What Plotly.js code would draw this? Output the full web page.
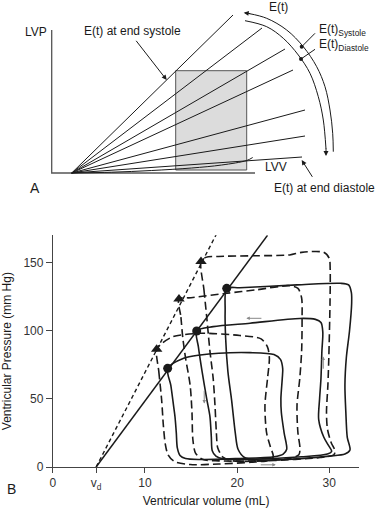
<!DOCTYPE html>
<html>
<head>
<meta charset="utf-8">
<script src="https://cdn.plot.ly/plotly-3.0.1.min.js"></script>
<style>html,body{margin:0;padding:0;background:#fff;}#chart{width:376px;height:508px;}</style>
</head>
<body>
<div id="chart"></div>
<script>
// ---------- Panel A (schematic, arbitrary units: LVV right, LVP up) ----------
const etEndV = [161.3, 190.3, 213.3, 221.3, 233.3, 233.3, 230.3];
const etEndP = [158, 145, 124, 103, 63, 37, 16];
const edCurveV = [0, 40, 80, 120, 150, 175, 181];
const edCurveP = [0, 0.8, 2.5, 5, 8, 12.5, 15.5];
const rectV = [104, 175];
const rectP = [3, 102.3];
const axisAV = [-20, -20, 183.3];
const axisAP = [143, 0, 0];
const arcOuterV = [177, 195, 215, 231.6, 245, 253.3, 258.3, 261, 261.6];
const arcOuterP = [159.5, 154.7, 143, 126.3, 106.3, 86.3, 63, 39.7, 21.3];
const arcInnerV = [173.3, 195, 211.6, 226.6, 238.3, 246.6, 251.6, 254.3];
const arcInnerP = [152.3, 146.3, 134.7, 118, 99.7, 76.3, 53, 24];

// ---------- Panel B ----------
const vd = 4.7;
const xTickVals = [0, vd, 10, 20, 30];
const xTickText = ['0', 'v<sub>d</sub>', '10', '20', '30'];
const yTickVals = [0, 50, 100, 150];
const controlLineV = [vd, 23.3];
const controlLineP = [0, 170];
const epiLineV = [vd, 17.8];
const epiLineP = [0, 171.5];
const controlEsV = [12.46, 15.61, 18.87];
const controlEsP = [72.4, 99.8, 131.1];
const epiEsV = [11.27, 13.69, 16.08];
const epiEsP = [86.4, 123.3, 150.7];

const c1V = [12.46, 12.8, 13.1, 13.26, 13.4, 13.51, 13.8, 14.4, 16, 20, 24, 25, 25.38, 25.1, 24.8, 24.75, 24.9, 24.95, 24.7, 24.0, 21.4, 18, 16, 14.2, 12.46];
const c1P = [72.4, 60, 45, 36.7, 25, 14, 8.5, 6.2, 5.5, 6.2, 7.5, 9.5, 13, 25, 40, 50, 65, 72, 79, 82.5, 83.9, 83.5, 82.2, 79.8, 72.4];
const c2V = [15.61, 15.8, 16.2, 16.7, 17.05, 17.2, 17.3, 17.7, 18.5, 22, 27, 29.8, 30.26, 29.9, 29.4, 28.85, 28.95, 29.1, 29.2, 29.3, 29.1, 28.5, 26.8, 21.4, 17.4, 15.61];
const c2P = [99.8, 88, 70, 50, 37, 22, 12, 8, 6, 5.8, 7.5, 9.5, 11.5, 16, 22, 35, 50, 65, 85, 99, 106, 108.3, 109, 105.5, 103, 99.8];
const c3V = [18.87, 18.7, 18.75, 19.0, 19.4, 19.8, 20.1, 20.8, 22, 26, 30, 31.7, 32.25, 31.95, 31.8, 31.7, 31.85, 32.2, 32.43, 32.4, 32.1, 31.2, 26.5, 20.3, 18.87];
const c3P = [131.1, 115, 95, 70, 49, 25, 13, 7, 5.2, 5.8, 8, 9.5, 12.5, 22, 40, 60, 80, 100, 120, 128, 133.6, 134.8, 133.6, 131.5, 131.1];
const e1V = [11.27, 11.5, 11.81, 12.0, 12.2, 12.5, 13.2, 14.9, 18, 21.5, 23.5, 23.92, 23.6, 23.2, 23.02, 23.3, 23.5, 23.3, 22.6, 20.3, 16, 13.04, 11.9, 11.27];
const e1P = [86.4, 70, 49, 30, 17, 9, 4, 1.8, 2.2, 3.5, 5, 7.5, 15, 25, 45, 65, 80, 88, 94, 96.5, 98.1, 95.6, 91, 86.4];
const e2V = [13.69, 13.9, 14.1, 14.4, 14.9, 15.1, 15.2, 15.5, 16.3, 18, 22, 25.5, 26.7, 26.82, 26.6, 26.5, 26.8, 27.0, 27.05, 27.0, 26.6, 25.7, 22.1, 18.9, 15, 13.69];
const e2P = [123.3, 110, 95, 80, 60, 40, 20, 10, 5.5, 4.5, 4.5, 6, 9, 14, 25, 45, 65, 85, 110, 124, 131, 133, 130, 127.5, 124.2, 123.3];
const e3V = [16.08, 16.4, 16.7, 17.05, 17.4, 17.6, 17.75, 17.9, 18.5, 19.5, 24, 29, 30.5, 30.62, 30.2, 29.8, 29.7, 29.85, 29.95, 30.08, 30.1, 30.0, 29.4, 27, 25.7, 22, 18, 16.6, 16.08];
const e3P = [150.7, 130, 110, 85, 65, 45, 25, 14, 7, 4.5, 4.8, 7, 9, 12, 18, 28, 40, 60, 80, 120, 145, 153, 157.5, 157.5, 155.6, 155, 154.5, 153.8, 150.7];

// small direction arrows: [headV, headP, tailV, tailP]
const dirArrows = [
  [21.0, 109.1, 22.8, 109.1],
  [16.43, 46.5, 16.43, 57],
  [29.35, 81, 29.35, 71],
  [24.2, 1.6, 22.4, 1.6]
];

const FONT = 'Liberation Sans, Arial, sans-serif';
const INK = '#1a1a1a';

const traces = [];
// Panel A
traces.push({x:[rectV[0], rectV[1], rectV[1], rectV[0], rectV[0]], y:[rectP[0], rectP[0], rectP[1], rectP[1], rectP[0]],
  xaxis:'x2', yaxis:'y2', mode:'lines', fill:'toself', fillcolor:'#dcdcdc', line:{color:'#555', width:1}, hoverinfo:'skip'});
traces.push({x:axisAV, y:axisAP, xaxis:'x2', yaxis:'y2', mode:'lines', line:{color:'#555', width:1.3}, hoverinfo:'skip'});
const fanX = [], fanY = [];
etEndV.forEach((v, i) => { fanX.push(0, v, null); fanY.push(0, etEndP[i], null); });
traces.push({x:fanX, y:fanY, xaxis:'x2', yaxis:'y2', mode:'lines', line:{color:INK, width:1}, hoverinfo:'skip'});
traces.push({x:edCurveV, y:edCurveP, xaxis:'x2', yaxis:'y2', mode:'lines', line:{color:INK, width:1, shape:'spline'}, hoverinfo:'skip'});
traces.push({x:arcOuterV, y:arcOuterP, xaxis:'x2', yaxis:'y2', mode:'lines', line:{color:INK, width:1, shape:'spline'}, hoverinfo:'skip'});
traces.push({x:arcInnerV, y:arcInnerP, xaxis:'x2', yaxis:'y2', mode:'lines', line:{color:INK, width:1, shape:'spline'}, hoverinfo:'skip'});
traces.push({x:[230, 243.3, null, 229.3, 243.3], y:[126.3, 139.7, null, 114, 123.7], xaxis:'x2', yaxis:'y2', mode:'lines', line:{color:INK, width:1}, hoverinfo:'skip'});
traces.push({x:[230, 229.3], y:[126.3, 114], xaxis:'x2', yaxis:'y2', mode:'markers', marker:{color:INK, size:4}, hoverinfo:'skip'});

// Panel B
const loopStyle = (dash) => ({color:INK, width:1.6, shape:'spline', smoothing:0.8, dash:dash});
[[c1V,c1P],[c2V,c2P],[c3V,c3P]].forEach(([v,p]) => traces.push({x:v, y:p, mode:'lines', line:loopStyle('solid'), hoverinfo:'skip'}));
[[e1V,e1P],[e2V,e2P],[e3V,e3P]].forEach(([v,p]) => traces.push({x:v, y:p, mode:'lines', line:loopStyle('8px,4px'), hoverinfo:'skip'}));
traces.push({x:controlLineV, y:controlLineP, mode:'lines', line:{color:INK, width:1.5}, hoverinfo:'skip'});
traces.push({x:epiLineV, y:epiLineP, mode:'lines', line:{color:INK, width:1.4, dash:'4px,3px'}, hoverinfo:'skip'});
traces.push({x:controlEsV, y:controlEsP, mode:'markers', marker:{symbol:'circle', size:9, color:INK}, hoverinfo:'skip', cliponaxis:false});
traces.push({x:epiEsV, y:epiEsP, mode:'markers', marker:{symbol:'triangle-up', size:10, color:INK}, hoverinfo:'skip', cliponaxis:false});

const ann = [];
const txt = (x, y, text, opts) => Object.assign({x, y, text, xref:'x2', yref:'y2', showarrow:false, font:{family:FONT, size:12, color:INK}}, opts || {});
ann.push(txt(206.6, 166.3, 'E(t)'));
ann.push(txt(245, 143, 'E(t)<sub>Systole</sub>', {xanchor:'left'}));
ann.push(txt(245, 128, 'E(t)<sub>Diastole</sub>', {xanchor:'left'}));
ann.push(txt(-35.9, 141.3, 'LVP'));
ann.push(txt(60.8, 142, 'E(t) at end systole'));
ann.push(txt(204.3, 6.3, 'LVV'));
ann.push(txt(252.5, -14.5, 'E(t) at end diastole'));
const arr = (x, y, ax, ay, opts) => Object.assign({x, y, ax, ay, xref:'x2', yref:'y2', axref:'x2', ayref:'y2', text:'', showarrow:true, arrowhead:2, arrowsize:1, arrowwidth:1, arrowcolor:INK, standoff:0, startstandoff:0}, opts || {});
ann.push(arr(95, 93, 63.3, 133.7));
ann.push(arr(230, 13, 241.6, -5.3));
ann.push(arr(172, 160.3, 180, 159.2));
ann.push(arr(254.3, 17, 254.3, 26));
dirArrows.forEach(a => ann.push({x:a[0], y:a[1], ax:a[2], ay:a[3], xref:'x', yref:'y', axref:'x', ayref:'y', text:'', showarrow:true, arrowhead:2, arrowsize:0.7, arrowwidth:1, arrowcolor:'#888', standoff:0}));
ann.push({x:16.15, y:177.6, xref:'x', yref:'y', text:'Epinephrine', showarrow:false, font:{family:FONT, size:12, color:INK}});
ann.push({x:24.2, y:177.6, xref:'x', yref:'y', text:'Control', showarrow:false, font:{family:FONT, size:12, color:INK}});
ann.push({x:28/376, y:1-187.5/508, xref:'paper', yref:'paper', text:'A', showarrow:false, font:{family:FONT, size:14, color:INK}});
ann.push({x:5/376, y:1-499/508, xref:'paper', yref:'paper', text:'B', showarrow:false, font:{family:FONT, size:14, color:INK}});

const layout = {
  width:376, height:508, margin:{l:0, r:0, t:0, b:0}, showlegend:false,
  paper_bgcolor:'#fff', plot_bgcolor:'rgba(0,0,0,0)',
  font:{family:FONT, size:12, color:INK},
  xaxis:{domain:[52.85/376, 359.3/376], range:[0, 33.26], anchor:'y', showgrid:false, zeroline:false,
    showline:true, linecolor:'#444', linewidth:1, ticks:'outside', ticklen:5, tickcolor:'#444',
    tickvals:xTickVals, ticktext:xTickText, tickfont:{family:FONT, size:12, color:'#333'},
    title:{text:'Ventricular volume (mL)', font:{family:FONT, size:12, color:INK}, standoff:7}, automargin:false},
  yaxis:{domain:[41/508, 272.7/508], range:[0, 170], anchor:'x', showgrid:false, zeroline:false,
    showline:true, linecolor:'#444', linewidth:1, ticks:'outside', ticklen:6, tickcolor:'#444',
    tickvals:yTickVals, tickfont:{family:FONT, size:12, color:'#333'},
    title:{text:'Ventricular Pressure (mm Hg)', font:{family:FONT, size:12, color:INK}, standoff:10}, automargin:false},
  xaxis2:{domain:[0, 1], range:[-71.7, 304.3], anchor:'y2', visible:false, fixedrange:true},
  yaxis2:{domain:[308/508, 1], range:[-27, 173], anchor:'x2', visible:false, fixedrange:true},
  annotations:ann
};
Plotly.newPlot('chart', traces, layout, {staticPlot:true, displayModeBar:false});
</script>
</body>
</html>
